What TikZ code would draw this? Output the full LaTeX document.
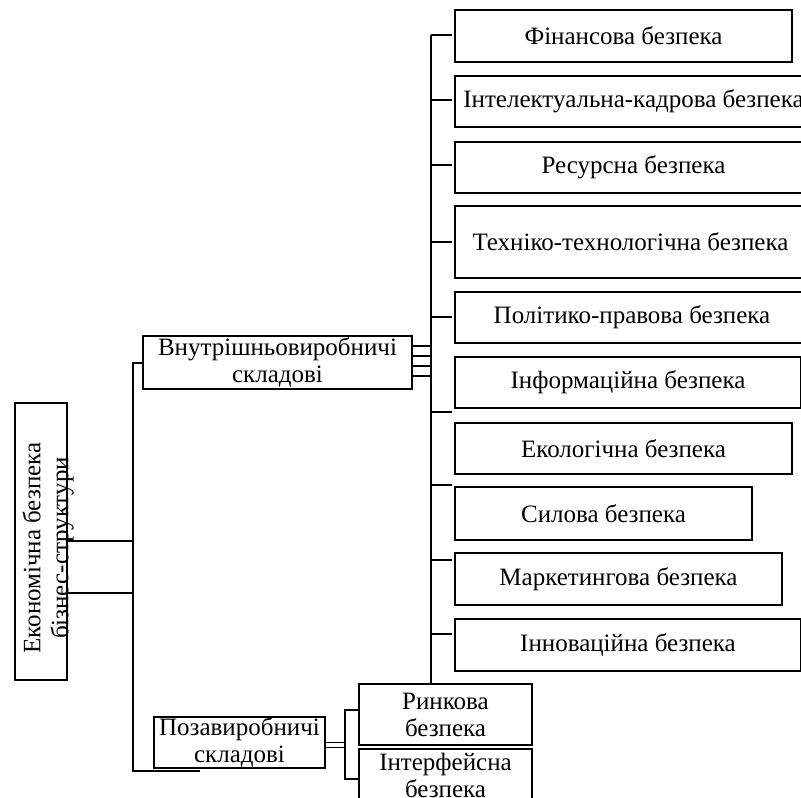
\documentclass[tikz,border=0pt]{standalone}
\usepackage{fontspec}
\setmainfont{Liberation Serif}
\begin{document}
\begin{tikzpicture}[x=1pt,y=-1pt,
  box/.style={draw,line width=1.4pt,rectangle,inner sep=0pt,align=center,font=\fontsize{25}{27}\selectfont},
  ln/.style={line width=1.4pt}]
\clip (0,0) rectangle (801,798);
\fill[white] (0,0) rectangle (801,798);
% helper for boxes by corners
\newcommand{\bx}[6]{\node[box,minimum width={#4-#2},minimum height={#5-#3}] (#1) at ({(#2+#4)/2},{(#3+#5)/2}) {#6};}
\bx{root}{15}{403}{67}{680}{}
\node[rotate=90,align=center,font=\fontsize{25}{28}\selectfont,inner sep=0pt] (rootlbl) at (48,548) {Економічна безпека\\бізнес-структури};
\bx{vn}{143}{336}{412}{389}{Внутрішньовиробничі\\складові}
\bx{poza}{154}{717}{325}{768}{Позавиробничі\\складові}
\bx{fin}{455}{10}{792}{62}{Фінансова безпека}
\bx{intel}{455}{76}{812}{127}{Інтелектуальна-кадрова безпека}
\bx{res}{455}{142}{812}{193}{Ресурсна безпека}
\bx{tech}{455}{206}{806}{278}{Техніко-технологічна безпека}
\bx{pol}{455}{292}{809}{343}{Політико-правова безпека}
\bx{inf}{455}{357}{801}{408}{Інформаційна безпека}
\bx{eko}{455}{423}{792}{474}{Екологічна безпека}
\bx{syl}{455}{487}{752}{540}{Силова безпека}
\bx{mar}{455}{553}{782}{605}{Маркетингова безпека}
\bx{inn}{455}{619}{801}{671}{Інноваційна безпека}
\bx{rynk}{359}{684}{532}{745}{Ринкова\\безпека}
\bx{intf}{359}{749}{532}{801}{Інтерфейсна\\безпека}
% root to left bus
\coordinate (lbt) at (133,363);
\coordinate (lbb) at (133,771);
\draw[ln] (root.east |- 0,541) -- (lbt |- 0,541);
\draw[ln] (root.east |- 0,593) -- (lbt |- 0,593);
\draw[ln] (vn.west |- lbt) -- (lbt) -- (lbb) -- (200,771);
% vn to main bus
\coordinate (mbt) at (431,35);
\coordinate (mbb) at (431,684);
\foreach \yy in {346,356,366,376} {\draw[ln] (vn.east |- 0,\yy) -- (mbt |- 0,\yy);}
\draw[ln] (mbt) -- (mbb);
\foreach \yy in {35,100,165,242,317,412,485,560,634} {\draw[ln] (mbt |- 0,\yy) -- (452,\yy);}
% poza to its children
\coordinate (pbt) at (345,710);
\coordinate (pbb) at (345,779);
\draw[line width=1pt] (poza.east |- 0,742.5) -- (pbt |- 0,742.5);
\draw[line width=1pt] (poza.east |- 0,747) -- (pbt |- 0,747);
\draw[ln] (rynk.west |- pbt) -- (pbt) -- (pbb) -- (intf.west |- pbb);
\end{tikzpicture}
\end{document}
